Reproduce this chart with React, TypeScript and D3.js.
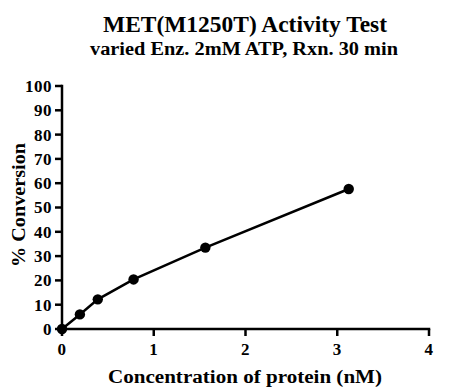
import * as d3 from "d3";

const WIDTH = 454;
const HEIGHT = 390;
const MARGIN = { top: 86, right: 25, bottom: 61, left: 62 };

const TITLE = "MET(M1250T) Activity Test";
const SUBTITLE = "varied Enz. 2mM ATP, Rxn. 30 min";
const X_LABEL = "Concentration of protein (nM)";
const Y_LABEL = "% Conversion";

const concentration = [0, 0.195, 0.39, 0.78, 1.5625, 3.125];
const conversion = [0, 6.0, 12.2, 20.4, 33.5, 57.6];
const xTicks = [0, 1, 2, 3, 4];
const yTicks = [0, 10, 20, 30, 40, 50, 60, 70, 80, 90, 100];

const FONT = "'Liberation Serif', 'Times New Roman', serif";
const TICK = 7;

export default function App() {
  const boundsWidth = WIDTH - MARGIN.left - MARGIN.right;
  const boundsHeight = HEIGHT - MARGIN.top - MARGIN.bottom;

  const xScale = d3.scaleLinear().domain([0, 4]).range([0, boundsWidth]);
  const yScale = d3.scaleLinear().domain([0, 100]).range([boundsHeight, 0]);
  const fmt = d3.format("d");

  const line = d3
    .line<number>()
    .x((_, i) => xScale(concentration[i]))
    .y((d) => yScale(d));

  return (
    <div style={{ position: "absolute", left: 0, top: 0 }}>
      <svg width={WIDTH} height={HEIGHT} style={{ display: "block", background: "#fff" }}>
        <g fontFamily={FONT} fontWeight="bold" fill="#000">
          <text x={245} y={32} textAnchor="middle" fontSize={23} textLength={284} lengthAdjust="spacingAndGlyphs">
            {TITLE}
          </text>
          <text x={244} y={55} textAnchor="middle" fontSize={18} textLength={308} lengthAdjust="spacingAndGlyphs">
            {SUBTITLE}
          </text>
          <text x={245} y={383} textAnchor="middle" fontSize={18} textLength={274} lengthAdjust="spacingAndGlyphs">
            {X_LABEL}
          </text>
          <text
            transform={`translate(25,205) rotate(-90)`}
            textAnchor="middle"
            fontSize={18}
            textLength={124}
            lengthAdjust="spacingAndGlyphs"
          >
            {Y_LABEL}
          </text>
        </g>
        <g transform={`translate(${MARGIN.left},${MARGIN.top})`}>
          <path d={line(conversion) ?? ""} fill="none" stroke="#000" strokeWidth={2.5} />
          {conversion.map((d, i) => (
            <circle key={i} cx={xScale(concentration[i])} cy={yScale(d)} r={5.2} fill="#000" />
          ))}
          {/* x axis */}
          <g transform={`translate(0,${boundsHeight})`}>
            <line x1={-1.25} x2={boundsWidth + 1.25} stroke="#000" strokeWidth={2.5} />
            {xTicks.map((t) => (
              <g key={t} transform={`translate(${xScale(t)},0)`}>
                <line y2={TICK} stroke="#000" strokeWidth={2.5} />
                <text
                  y={26}
                  textAnchor="middle"
                  fontFamily={FONT}
                  fontWeight="bold"
                  fontSize={17}
                  letterSpacing={0.5}
                >
                  {fmt(t)}
                </text>
              </g>
            ))}
          </g>
          {/* y axis */}
          <g>
            <line y1={-1.25} y2={boundsHeight + 1.25} stroke="#000" strokeWidth={2.5} />
            {yTicks.map((t) => (
              <g key={t} transform={`translate(0,${yScale(t)})`}>
                <line x2={-TICK} stroke="#000" strokeWidth={2.5} />
                <text
                  x={-TICK - 3}
                  dy="0.35em"
                  textAnchor="end"
                  fontFamily={FONT}
                  fontWeight="bold"
                  fontSize={17}
                  letterSpacing={0.5}
                >
                  {fmt(t)}
                </text>
              </g>
            ))}
          </g>
        </g>
      </svg>
    </div>
  );
}
